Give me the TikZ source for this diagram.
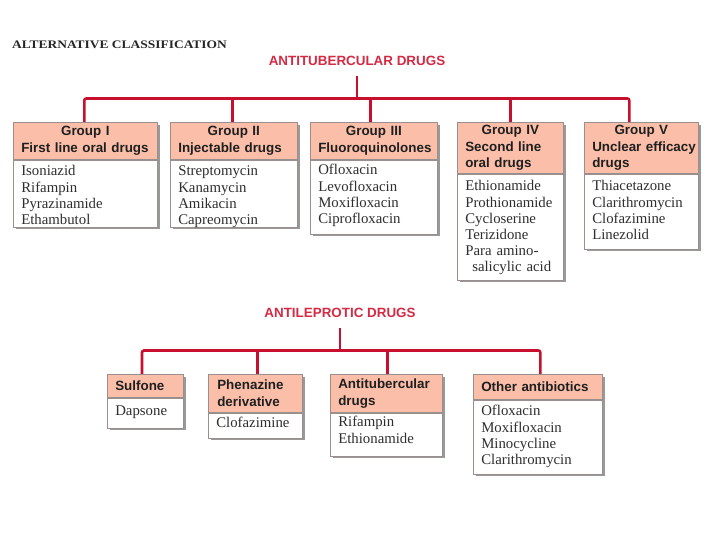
\documentclass[tikz,border=0pt]{standalone}
\usepackage{fontspec}
\usepackage{graphicx}
\setmainfont{Liberation Serif}
\setsansfont{Liberation Sans}
\usetikzlibrary{shadows}
\definecolor{linkred}{HTML}{C8102E}
\definecolor{titlered}{HTML}{D42A44}
\definecolor{headfill}{HTML}{FBBFA9}
\definecolor{boxline}{HTML}{9A8F8C}
\begin{document}
\begin{tikzpicture}[x=1pt,y=-1pt,
  link/.style={draw=linkred, line width=2.6pt},
  boxshadow/.style={drop shadow={shadow xshift=2.5pt, shadow yshift=-2.5pt, fill=black, opacity=0.4}},
  head/.style={boxshadow, draw=boxline, fill=headfill, line width=0.6pt, anchor=north west,
    inner xsep=8pt, inner ysep=0pt, align=left,
    font=\sffamily\bfseries\fontsize{13.4}{16.6}\selectfont, text=black!88},
  body/.style={boxshadow, draw=boxline, fill=white, line width=0.6pt, anchor=north west,
    inner xsep=8pt, inner ysep=0pt, align=left,
    font=\fontsize{14.8}{16.2}\selectfont, text=black!82},
  grouptitle/.style={anchor=base, inner sep=2pt,
    font=\sffamily\bfseries\fontsize{13.4}{16}\selectfont, text=titlered},
  pagetitle/.style={anchor=base west, inner sep=0pt,
    font=\bfseries\fontsize{11.5}{13}\selectfont, text=black!85}
]
\fill[white] (0,0) rectangle (712,534);
\useasboundingbox (0,0) rectangle (712,534);

\node[pagetitle] (alt) at (12,49) {\scalebox{1.17}[1]{ALTERNATIVE CLASSIFICATION}};

% ---------- Antitubercular drugs ----------
\node[grouptitle] (t1) at (357,66) {ANTITUBERCULAR DRUGS};
\coordinate (j1) at (357,98.5);

\node[head, text width=128pt, minimum height=37pt] (g1h) at (13,122)
  {\makebox[\linewidth]{Group I}\\First line oral drugs};
\node[body, text width=128pt, text height=16pt, text depth=51pt] (g1b) at (g1h.south west)
  {Isoniazid\\Rifampin\\Pyrazinamide\\Ethambutol};

\node[head, text width=111pt, minimum height=37pt] (g2h) at (170,122)
  {\makebox[\linewidth]{Group II}\\Injectable drugs};
\node[body, text width=111pt, text height=16pt, text depth=51pt] (g2b) at (g2h.south west)
  {Streptomycin\\Kanamycin\\Amikacin\\Capreomycin};

\node[head, text width=111pt, minimum height=37pt] (g3h) at (310,122)
  {\makebox[\linewidth]{Group III}\\Fluoroquinolones};
\node[body, text width=111pt, text height=15pt, text depth=59pt] (g3b) at (g3h.south west)
  {Ofloxacin\\Levofloxacin\\Moxifloxacin\\Ciprofloxacin};

\node[head, text width=90pt, minimum height=51pt] (g4h) at (457,122)
  {\makebox[\linewidth]{Group IV}\\Second line\\oral drugs};
\node[body, text width=90pt, text height=17pt, text depth=89pt] (g4b) at (g4h.south west)
  {Ethionamide\\Prothionamide\\Cycloserine\\Terizidone\\Para amino-\\\hspace*{7pt}salicylic acid};

\node[head, text width=98pt, minimum height=51pt] (g5h) at (584,122)
  {\makebox[\linewidth]{Group V}\\\mbox{Unclear efficacy}\\drugs};
\node[body, text width=98pt, text height=17pt, text depth=58pt] (g5b) at (g5h.south west)
  {Thiacetazone\\Clarithromycin\\Clofazimine\\Linezolid};

\draw[link, shorten <=8pt] (t1.south) -- (j1);
\draw[link, rounded corners=2pt] ([xshift=-1pt]g1h.north) |- (j1) -| ([xshift=-12pt]g5h.north);
\draw[link] ([xshift=-1.5pt]g2h.north) -- ([xshift=-1.5pt]g2h.north |- j1);
\draw[link] ([xshift=-3.5pt]g3h.north) -- ([xshift=-3.5pt]g3h.north |- j1);
\draw[link] (g4h.north) -- (g4h.north |- j1);

% ---------- Antileprotic drugs ----------
\node[grouptitle] (t2) at (340,318) {ANTILEPROTIC DRUGS};
\coordinate (j2) at (340,350.5);

\node[head, text width=60pt, minimum height=23pt] (l1h) at (107,374) {Sulfone};
\node[body, text width=60pt, text height=18pt, text depth=12pt] (l1b) at (l1h.south west) {Dapsone};

\node[head, text width=76pt, minimum height=38pt, inner xsep=9pt] (l2h) at (208,374)
  {Phenazine\\derivative};
\node[body, text width=78pt, text height=15pt, text depth=10pt] (l2b) at (l2h.south west) {Clofazimine};

\node[head, text width=96pt, minimum height=38pt] (l3h) at (330,374)
  {Antitubercular\\drugs};
\node[body, text width=96pt, text height=14pt, text depth=29pt] (l3b) at (l3h.south west)
  {Rifampin\\Ethionamide};

\node[head, text width=113pt, minimum height=25pt] (l4h) at (473,374) {Other antibiotics};
\node[body, text width=113pt, text height=16pt, text depth=58pt] (l4b) at (l4h.south west)
  {Ofloxacin\\Moxifloxacin\\Minocycline\\Clarithromycin};

\draw[link, shorten <=8pt] (t2.south) -- (j2);
\draw[link, rounded corners=2pt] ([xshift=-3.3pt]l1h.north) |- (j2) -| ([xshift=2.5pt]l4h.north);
\draw[link] ([xshift=2pt]l2h.north) -- ([xshift=2pt]l2h.north |- j2);
\draw[link] ([xshift=1pt]l3h.north) -- ([xshift=1pt]l3h.north |- j2);
\end{tikzpicture}
\end{document}
